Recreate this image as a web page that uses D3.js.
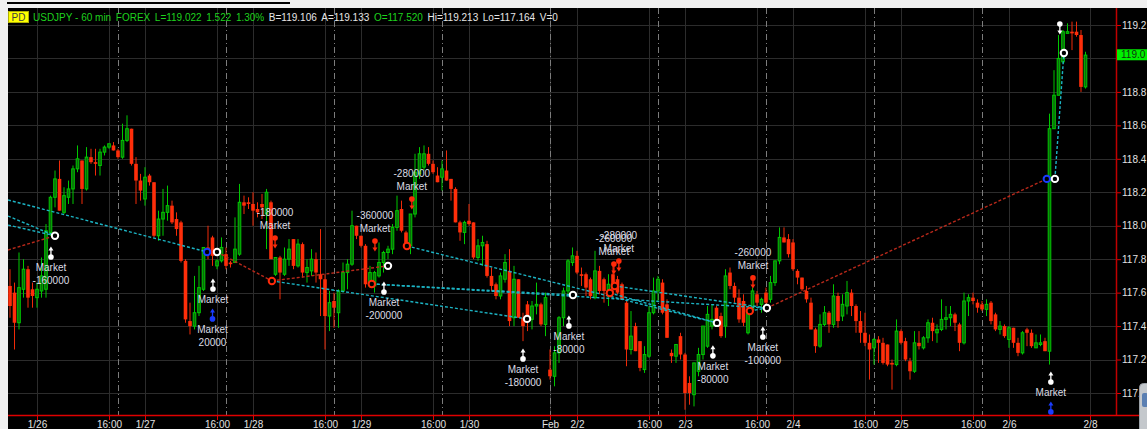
<!DOCTYPE html>
<html>
<head>
<meta charset="utf-8">
<script src="https://cdn.jsdelivr.net/npm/d3@7"></script>
<style>
  html, body { margin: 0; padding: 0; background: #f0f0f0; }
  svg { display: block; font-family: "Liberation Sans", Arial, sans-serif; }
</style>
</head>
<body>
<svg id="chart" width="1147" height="429"></svg>
<script>
// USDJPY hourly bars, bar index 0 = 1/25 18:00 (weekend hours removed)
const opens = [117.64,117.60,117.42,117.62,117.74,117.62,117.57,117.61,117.62,117.96,
118.17,118.28,118.08,118.17,118.22,118.34,118.39,118.22,118.41,118.38,
118.36,118.44,118.47,118.48,118.45,118.41,118.51,118.58,118.37,118.27,
118.16,118.30,118.26,117.94,118.04,118.08,118.12,118.04,118.02,117.79,
117.43,117.40,117.48,117.62,117.87,117.93,117.76,117.79,117.83,117.78,
117.78,117.83,118.14,118.14,118.13,118.10,118.13,118.07,118.14,117.71,
117.81,117.71,117.80,117.92,117.76,117.89,117.72,117.73,117.80,117.71,
117.68,117.46,117.55,117.48,117.61,117.72,117.77,118.00,117.94,117.88,
117.64,117.64,117.70,117.78,117.84,117.86,117.99,118.10,117.96,117.88,
118.07,118.31,118.35,118.43,118.37,118.30,118.29,118.33,118.28,118.22,
118.02,117.96,118.03,118.02,117.81,117.88,117.89,117.70,117.65,117.58,
117.68,117.73,117.45,117.68,117.45,117.53,117.44,117.52,117.53,117.41,
117.14,117.10,117.24,117.45,117.61,117.78,117.82,117.71,117.71,117.68,
117.57,117.73,117.68,117.58,117.71,117.68,117.65,117.54,117.26,117.40,
117.31,117.14,117.22,117.48,117.61,117.66,117.53,117.24,117.22,117.34,
117.23,117.06,116.99,117.13,117.23,117.28,117.40,117.51,117.46,117.40,
117.72,117.64,117.57,117.55,117.36,117.50,117.59,117.53,117.60,117.56,
117.66,117.79,117.93,117.92,117.90,117.73,117.69,117.61,117.54,117.38,
117.28,117.41,117.48,117.41,117.58,117.46,117.52,117.60,117.52,117.43,
117.36,117.30,117.27,117.32,117.30,117.29,117.18,117.17,117.37,117.31,
117.19,117.13,117.30,117.27,117.33,117.42,117.36,117.38,117.44,117.45,
117.47,117.41,117.30,117.55,117.57,117.54,117.53,117.50,117.54,117.47,
117.38,117.40,117.32,117.39,117.30,117.24,117.38,117.36,117.27,117.29,
117.31,117.25,118.58,118.78,118.98,119.15,119.16,119.16,119.14,118.83];

const highs = [117.74,117.66,117.84,117.80,117.76,117.66,117.66,117.81,118.01,118.18,
118.33,118.39,118.23,118.27,118.36,118.48,118.39,118.47,118.46,118.46,
118.46,118.48,118.49,118.50,118.46,118.61,118.66,118.58,118.41,118.31,
118.35,118.31,118.26,118.09,118.22,118.24,118.15,118.08,118.03,117.80,
117.54,117.70,117.76,117.87,118.00,117.94,117.80,117.93,117.87,117.79,
118.05,118.25,118.18,118.17,118.20,118.14,118.19,118.22,118.15,117.81,
117.82,117.87,117.92,117.92,117.92,117.90,117.80,117.86,117.84,117.98,
117.71,117.61,117.60,117.62,117.78,117.80,118.09,118.00,117.94,117.89,
117.76,117.73,117.90,117.85,117.88,118.01,118.18,118.15,117.97,118.07,
118.43,118.47,118.48,118.47,118.39,118.35,118.39,118.45,118.28,118.23,
118.03,118.03,118.13,118.02,117.92,117.94,117.91,117.75,117.66,117.72,
117.83,117.86,117.76,117.68,117.48,117.55,117.55,117.66,117.54,117.60,
117.26,117.28,117.46,117.63,117.80,117.87,117.85,117.75,117.72,117.69,
117.85,117.76,117.69,117.71,117.77,117.70,117.66,117.55,117.49,117.42,
117.31,117.28,117.52,117.69,117.70,117.68,117.56,117.26,117.29,117.36,
117.24,117.10,117.18,117.27,117.40,117.52,117.53,117.52,117.48,117.74,
117.75,117.66,117.62,117.59,117.52,117.63,117.61,117.57,117.63,117.70,
117.79,117.99,117.99,117.95,117.92,117.74,117.69,117.64,117.57,117.39,
117.47,117.52,117.49,117.65,117.60,117.59,117.67,117.62,117.53,117.49,
117.48,117.35,117.33,117.34,117.33,117.29,117.20,117.44,117.38,117.33,
117.21,117.37,117.37,117.34,117.44,117.45,117.41,117.56,117.52,117.52,
117.48,117.42,117.60,117.59,117.60,117.56,117.55,117.56,117.55,117.48,
117.43,117.41,117.40,117.39,117.33,117.37,117.39,117.38,117.35,117.35,
117.33,118.67,118.93,119.14,119.17,119.21,119.22,119.22,119.17,119.04];

const lows = [117.45,117.26,117.38,117.57,117.51,117.51,117.51,117.57,117.57,117.94,
118.11,118.09,118.07,118.13,118.13,118.32,118.13,118.21,118.37,118.30,
118.30,118.42,118.46,118.45,118.40,118.40,118.50,118.36,118.13,118.15,
118.12,118.24,117.93,117.91,117.94,118.03,118.01,117.94,117.78,117.42,
117.35,117.38,117.46,117.61,117.80,117.76,117.74,117.78,117.74,117.75,
117.78,117.82,118.07,118.10,118.00,118.05,118.04,117.86,117.80,117.70,
117.56,117.70,117.76,117.74,117.75,117.69,117.66,117.70,117.66,117.46,
117.26,117.37,117.39,117.39,117.60,117.62,117.76,117.92,117.87,117.63,
117.63,117.60,117.69,117.72,117.80,117.83,117.97,117.96,117.86,117.83,
118.05,118.28,118.33,118.36,118.31,118.26,118.21,118.27,118.15,118.02,
117.91,117.89,118.00,117.80,117.79,117.76,117.69,117.61,117.56,117.56,
117.66,117.40,117.40,117.45,117.31,117.37,117.38,117.47,117.40,117.34,
117.08,117.04,117.18,117.40,117.59,117.76,117.71,117.64,117.58,117.56,
117.56,117.59,117.54,117.52,117.59,117.59,117.56,117.16,117.23,117.25,
117.13,117.12,117.21,117.47,117.55,117.47,117.33,117.18,117.18,117.20,
116.90,116.93,116.92,117.10,117.20,117.27,117.38,117.42,117.33,117.33,
117.62,117.54,117.42,117.40,117.35,117.49,117.52,117.48,117.52,117.54,
117.64,117.77,117.90,117.81,117.73,117.65,117.61,117.54,117.38,117.24,
117.27,117.40,117.36,117.39,117.39,117.43,117.47,117.46,117.36,117.30,
117.28,117.08,117.17,117.18,117.17,117.16,117.02,117.16,117.29,117.19,
117.08,117.12,117.26,117.26,117.30,117.31,117.30,117.37,117.38,117.40,
117.37,117.25,117.29,117.46,117.53,117.48,117.49,117.46,117.41,117.37,
117.35,117.33,117.27,117.27,117.22,117.23,117.28,117.27,117.27,117.28,
117.25,117.17,118.58,118.78,118.97,119.15,119.05,119.13,118.80,118.82];

const closes = [117.52,117.42,117.63,117.74,117.57,117.58,117.62,117.70,117.97,118.17,
118.28,118.09,118.18,118.22,118.34,118.40,118.22,118.41,118.38,118.37,
118.44,118.47,118.49,118.45,118.41,118.51,118.58,118.37,118.27,118.21,
118.29,118.26,117.94,118.04,118.08,118.12,118.02,117.98,117.79,117.44,
117.40,117.48,117.63,117.87,117.84,117.82,117.79,117.87,117.76,117.77,
117.86,118.14,118.12,118.13,118.09,118.08,118.11,118.20,117.80,117.81,
117.72,117.80,117.86,117.76,117.89,117.72,117.75,117.80,117.72,117.68,
117.46,117.54,117.51,117.61,117.72,117.77,118.00,117.94,117.88,117.65,
117.72,117.72,117.78,117.84,117.86,117.99,118.09,117.97,117.88,118.07,
118.32,118.43,118.43,118.37,118.32,118.26,118.34,118.27,118.22,118.02,
117.96,118.02,118.01,117.81,117.88,117.90,117.70,117.64,117.58,117.70,
117.78,117.43,117.68,117.45,117.40,117.44,117.52,117.53,117.41,117.57,
117.10,117.24,117.45,117.61,117.79,117.82,117.72,117.70,117.63,117.58,
117.73,117.61,117.61,117.65,117.62,117.60,117.56,117.26,117.34,117.25,
117.15,117.23,117.48,117.61,117.68,117.48,117.33,117.22,117.29,117.23,
117.00,117.00,117.18,117.23,117.40,117.47,117.44,117.44,117.34,117.70,
117.64,117.57,117.44,117.42,117.50,117.61,117.54,117.56,117.54,117.66,
117.79,117.93,117.90,117.83,117.74,117.69,117.62,117.56,117.38,117.28,
117.41,117.48,117.41,117.58,117.43,117.53,117.60,117.52,117.43,117.36,
117.30,117.26,117.32,117.30,117.18,117.17,117.17,117.37,117.30,117.20,
117.13,117.30,117.28,117.33,117.42,117.37,117.38,117.44,117.45,117.47,
117.42,117.30,117.55,117.57,117.55,117.51,117.50,117.53,117.43,117.38,
117.40,117.34,117.39,117.30,117.24,117.36,117.36,117.28,117.30,117.30,
117.25,118.58,118.78,119.00,119.16,119.16,119.15,119.14,118.83,119.02];

// time axis labels: [bar index, label]
const timeTicks = [[6,"1/26"],[22,"16:00"],[30,"1/27"],[46,"16:00"],[54,"1/28"],[70,"16:00"],
  [78,"1/29"],[94,"16:00"],[102,"1/30"],[120,"Feb"],[126,"2/2"],[142,"16:00"],[150,"2/3"],
  [166,"16:00"],[174,"2/4"],[190,"16:00"],[198,"2/5"],[214,"16:00"],[222,"2/6"],[240,"2/8"]];
// 18:00 session breaks
const sessionBreaks = [24,48,72,96,120,144,168,192,216];
const priceTicks = [117.0,117.2,117.4,117.6,117.8,118.0,118.2,118.4,118.6,118.8,119.0,119.2];
const lastPrice = 119.022;

// fills: ring markers at bar index / price
const fills = [
  {i:10, p:117.94, kind:"white"},
  {i:43.8, p:117.843, kind:"blue"},
  {i:46, p:117.843, kind:"white"},
  {i:58.2, p:117.67, kind:"red"},
  {i:80.4, p:117.652, kind:"red"},
  {i:84, p:117.76, kind:"white"},
  {i:88.2, p:117.879, kind:"red"},
  {i:114.9, p:117.443, kind:"white"},
  {i:125.1, p:117.586, kind:"white"},
  {i:133.3, p:117.598, kind:"red"},
  {i:134.4, p:117.64, kind:"red"},
  {i:157.1, p:117.419, kind:"white"},
  {i:164.4, p:117.49, kind:"red"},
  {i:168.2, p:117.508, kind:"white"},
  {i:230.4, p:118.28, kind:"blue"},
  {i:232.2, p:118.28, kind:"white"},
  {i:234.2, p:119.033, kind:"white"}
];

// trade links between fills (win = cyan, loss = red)
const tradeLinks = [
  {i0:-0.45, p0:118.154, i1:43.8, p1:117.843, win:true},
  {i0:-0.45, p0:118.058, i1:10, p1:117.94, win:true},
  {i0:-0.45, p0:118.004, i1:10, p1:117.94, win:true},
  {i0:-0.45, p0:117.855, i1:10, p1:117.94, win:false},
  {i0:46, p0:117.843, i1:58.2, p1:117.67, win:false},
  {i0:58.2, p0:117.67, i1:114.9, p1:117.443, win:true},
  {i0:58.2, p0:117.67, i1:84, p1:117.76, win:false},
  {i0:80.4, p0:117.652, i1:125.1, p1:117.586, win:true},
  {i0:80.4, p0:117.652, i1:168.2, p1:117.508, win:true},
  {i0:88.2, p0:117.879, i1:157.1, p1:117.419, win:true},
  {i0:133.3, p0:117.598, i1:157.1, p1:117.419, win:true},
  {i0:134.4, p0:117.64, i1:168.2, p1:117.508, win:true},
  {i0:164.4, p0:117.49, i1:168.2, p1:117.508, win:true},
  {i0:168.2, p0:117.508, i1:230.4, p1:118.28, win:false},
  {i0:232.2, p0:118.28, i1:234.2, p1:119.033, win:true}
];

// order arrows: p = price of the arrow's dot
const orders = [
  {i:9.1, p:117.813, kind:"buy", text:["Market","-160000"]},
  {i:45.1, p:117.622, kind:"buy", text:["Market"]},
  {i:45.0, p:117.443, kind:"long", text:["Market","20000"]},
  {i:58.9, p:117.927, kind:"sell", text:["-180000","Market"]},
  {i:81.1, p:117.909, kind:"sell", text:["-360000","Market"]},
  {i:83.1, p:117.604, kind:"buy", text:["Market","-200000"]},
  {i:89.3, p:118.160, kind:"sell", text:["-280000","Market"]},
  {i:114.0, p:117.204, kind:"buy", text:["Market","-180000"]},
  {i:124.2, p:117.401, kind:"buy", text:["Market","-80000"]},
  {i:134.2, p:117.771, kind:"sell", text:["-260000","Market"]},
  {i:135.3, p:117.789, kind:"sell", text:["-280000","Market"]},
  {i:156.2, p:117.222, kind:"buy", text:["Market","-80000"]},
  {i:165.1, p:117.688, kind:"sell", text:["-260000","Market"]},
  {i:167.3, p:117.335, kind:"buy", text:["Market","-100000"]},
  {i:231.3, p:117.066, kind:"buy", text:["Market"]},
  {i:231.3, p:116.887, kind:"long", text:[]},
  {i:233.3, p:119.206, kind:"exit", text:[]}
];

const headerItems = [
  {t:"USDJPY - 60 min", c:"#1ed21e"},
  {t:"FOREX", c:"#1ed21e"},
  {t:"L=119.022", c:"#1ed21e"},
  {t:"1.522", c:"#1ed21e"},
  {t:"1.30%", c:"#1ed21e"},
  {t:"B=119.106", c:"#e6e6e6"},
  {t:"A=119.133", c:"#e6e6e6"},
  {t:"O=117.520", c:"#1ed21e"},
  {t:"Hi=119.213", c:"#e6e6e6"},
  {t:"Lo=117.164", c:"#e6e6e6"},
  {t:"V=0", c:"#e6e6e6"}
];

const W = 1147, H = 429;
const plot = {left: 8, right: 1116, top: 8, bottom: 415};

const x = d3.scaleLinear().domain([0, 240]).range([10, 1090]);
const y = d3.scaleLinear().domain([117.0, 119.2]).range([393, 25]);

const svg = d3.select("#chart");

// frame: light outer strip and black chart panel
svg.append("rect").attr("x", 0).attr("y", 0).attr("width", W).attr("height", H).attr("fill", "#f0f0f0");
svg.append("rect").attr("x", 7).attr("y", 2).attr("width", 283).attr("height", 2).attr("fill", "#000");
svg.append("rect").attr("x", plot.left).attr("y", plot.top).attr("width", W - plot.left).attr("height", H - plot.top).attr("fill", "#000");

svg.append("defs").append("clipPath").attr("id", "plotClip")
  .append("rect").attr("x", plot.left).attr("y", plot.top)
  .attr("width", plot.right - plot.left).attr("height", plot.bottom - plot.top);

const g = svg.append("g").attr("clip-path", "url(#plotClip)");

// grid
g.append("g").selectAll("line").data(priceTicks).join("line")
  .attr("x1", plot.left).attr("x2", plot.right)
  .attr("y1", d => Math.round(y(d)) + 0.5).attr("y2", d => Math.round(y(d)) + 0.5)
  .attr("stroke", "#2c2c2c").attr("stroke-width", 1);
g.append("g").selectAll("line").data(timeTicks).join("line")
  .attr("x1", d => Math.round(x(d[0])) + 0.5).attr("x2", d => Math.round(x(d[0])) + 0.5)
  .attr("y1", plot.top).attr("y2", plot.bottom)
  .attr("stroke", "#2c2c2c").attr("stroke-width", 1);
g.append("g").selectAll("line").data(sessionBreaks).join("line")
  .attr("x1", d => Math.round(x(d)) + 0.5).attr("x2", d => Math.round(x(d)) + 0.5)
  .attr("y1", plot.top).attr("y2", plot.bottom)
  .attr("stroke", "#7c7c7c").attr("stroke-width", 1).attr("stroke-dasharray", "6,3,1,3");

// candles
const bars = d3.range(opens.length).map(i => ({i, o: opens[i], h: highs[i], l: lows[i], c: closes[i]}));
const up = d => d.c >= d.o;
const cg = g.append("g");
cg.selectAll("line").data(bars).join("line")
  .attr("x1", d => x(d.i)).attr("x2", d => x(d.i))
  .attr("y1", d => y(d.h)).attr("y2", d => y(d.l))
  .attr("stroke", d => up(d) ? "#00c800" : "#f02a08").attr("stroke-width", 1);
cg.selectAll("rect").data(bars).join("rect")
  .attr("x", d => up(d) ? x(d.i) - 1.3 : x(d.i) - 1.8)
  .attr("width", d => up(d) ? 2.6 : 3.6)
  .attr("y", d => y(Math.max(d.o, d.c)))
  .attr("height", d => Math.max(1, y(Math.min(d.o, d.c)) - y(Math.max(d.o, d.c))))
  .attr("fill", d => up(d) ? "#0b6a0b" : "#ff2e0a")
  .attr("stroke", d => up(d) ? "#00c800" : "none")
  .attr("stroke-width", 1);

// trade links
g.append("g").selectAll("line").data(tradeLinks).join("line")
  .attr("x1", d => x(d.i0)).attr("y1", d => y(d.p0))
  .attr("x2", d => x(d.i1)).attr("y2", d => y(d.p1))
  .attr("stroke", d => d.win ? "#1cb4c4" : "#b8281a")
  .attr("stroke-width", 1.4).attr("stroke-dasharray", "3,2");

// fill rings
const ringColor = {white: "#ffffff", red: "#ff2a0a", blue: "#1a3cff"};
g.append("g").selectAll("circle").data(fills).join("circle")
  .attr("cx", d => x(d.i)).attr("cy", d => y(d.p)).attr("r", 3.2)
  .attr("fill", "#000").attr("stroke", d => ringColor[d.kind]).attr("stroke-width", 2);

// order arrows
const arrowColor = {buy: "#ffffff", long: "#1a3cff", sell: "#ff2a0a", exit: "#ffffff"};
const og = g.append("g");
orders.forEach(d => {
  const cx = x(d.i), cy = y(d.p), col = arrowColor[d.kind];
  const m = og.append("g");
  const dir = (d.kind === "buy" || d.kind === "long") ? -1 : 1;
  // dot at the order price, arrow pointing toward the fill
  m.append("line").attr("x1", cx).attr("x2", cx).attr("y1", cy).attr("y2", cy + 8 * dir)
    .attr("stroke", col).attr("stroke-width", 1.3);
  m.append("path")
    .attr("d", `M${cx - 2.5},${cy + 6.5 * dir}L${cx},${cy + 10.5 * dir}L${cx + 2.5},${cy + 6.5 * dir}Z`)
    .attr("fill", col);
  m.append("circle").attr("cx", cx).attr("cy", cy).attr("r", 2.8).attr("fill", col);
  const base = dir < 0 ? cy + 14 : cy - 22;
  d.text.forEach((t, k) => {
    og.append("text").attr("x", cx).attr("y", base + 13 * k).attr("text-anchor", "middle")
      .attr("font-size", 10).attr("fill", "#dcdce4").text(t);
  });
});

// header line
const hg = svg.append("g").attr("font-size", 10);
hg.append("rect").attr("x", 8.5).attr("y", 11.5).attr("width", 20).attr("height", 11)
  .attr("fill", "#ffff00").attr("stroke", "#b0b000").attr("stroke-width", 1);
hg.append("text").attr("x", 18.5).attr("y", 21).attr("text-anchor", "middle").attr("fill", "#404040").text("PD");
let hx = 33;
headerItems.forEach(d => {
  const t = hg.append("text").attr("x", hx).attr("y", 21).attr("fill", d.c).text(d.t);
  hx += t.node().getComputedTextLength() + 4.6;
});

// bottom time axis
const xAxis = d3.axisBottom(x)
  .tickValues(timeTicks.map(d => d[0]))
  .tickFormat((d, k) => timeTicks[k][1])
  .tickSize(5).tickPadding(1);
const xa = svg.append("g").attr("transform", `translate(0,${plot.bottom})`).call(xAxis);
xa.select(".domain").remove();
xa.selectAll(".tick line").attr("stroke", "#e00000");
xa.selectAll(".tick text").attr("fill", "#e2e2e2").attr("font-size", 10)
  .attr("font-family", "Liberation Sans, Arial, sans-serif");

// right price axis (the last-price tag replaces the 119.0 label)
const yAxis = d3.axisRight(y).tickValues(priceTicks)
  .tickFormat(d => Math.abs(d - 119.0) < 1e-6 ? "" : d.toFixed(1))
  .tickSize(5).tickPadding(1);
const ya = svg.append("g").attr("transform", `translate(${plot.right},0)`).call(yAxis);
ya.select(".domain").remove();
ya.selectAll(".tick line").attr("stroke", "#e00000");
ya.selectAll(".tick text").attr("fill", "#e2e2e2").attr("font-size", 10)
  .attr("font-family", "Liberation Sans, Arial, sans-serif");

// axis lines
svg.append("line").attr("x1", plot.left).attr("x2", W).attr("y1", plot.bottom + 0.5).attr("y2", plot.bottom + 0.5)
  .attr("stroke", "#e00000").attr("stroke-width", 1.5);
svg.append("line").attr("x1", plot.right + 0.5).attr("x2", plot.right + 0.5).attr("y1", plot.top).attr("y2", plot.bottom)
  .attr("stroke", "#c00000").attr("stroke-width", 1.5);

// last price tag
const ly = y(lastPrice);
svg.append("rect").attr("x", plot.right + 1).attr("y", ly - 5.5).attr("width", W - plot.right).attr("height", 11)
  .attr("fill", "#00f000");
svg.append("text").attr("x", plot.right + 5).attr("y", ly + 3.5).attr("font-size", 10)
  .attr("fill", "#103010").text(lastPrice.toFixed(1));

// corner widget
svg.append("rect").attr("x", 1139.5).attr("y", 383.5).attr("width", 14).attr("height", 50).attr("rx", 4)
  .attr("fill", "#c4c8cc").attr("stroke", "#9aa0a6");
svg.append("rect").attr("x", 1142).attr("y", 393).attr("width", 6).attr("height", 14).attr("rx", 2).attr("fill", "#5b7fb2");
</script>
</body>
</html>
